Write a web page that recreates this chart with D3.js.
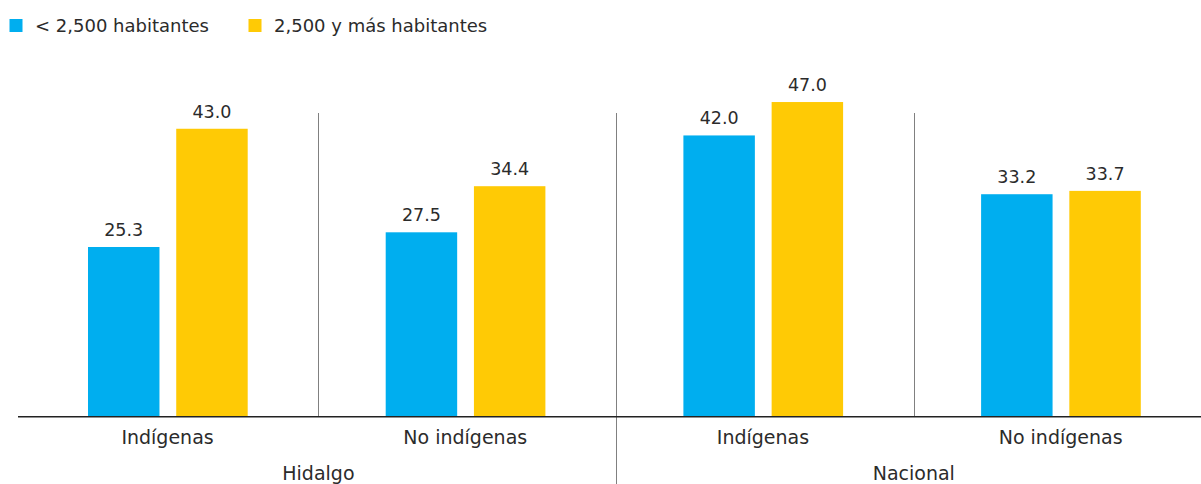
<!DOCTYPE html>
<html><head><meta charset="utf-8">
<script src="https://cdn.jsdelivr.net/npm/d3@7"></script>
<style>body{margin:0;background:#fff}svg{display:block}text{font-family:"DejaVu Sans",sans-serif;fill:#2b2b2b}</style>
</head><body>
<svg id="c" width="1201" height="484"></svg>
<script>
const categories = ["Indígenas","No indígenas","Indígenas","No indígenas"];
const groups = ["Hidalgo","Nacional"];
const seriesNames = ["< 2,500 habitantes","2,500 y más habitantes"];
const small = [25.3, 27.5, 42.0, 33.2];
const large = [43.0, 34.4, 47.0, 33.7];
const colors = ["#00AEEF","#FFCA05"];

const svg = d3.select("#c");
const W = 1201, H = 484, base = 416;
const x = d3.scaleBand().domain(d3.range(categories.length)).range([18.7, 1209.5]).padding(0);
const y = d3.scaleLinear().domain([0, 50]).range([base, 82]);
const inner = d3.scaleBand().domain([0,1]).range([69.3, 229]).paddingInner(0.19);

const series = [small, large];
const g = svg.append("g");
categories.forEach((c, i) => {
  series.forEach((s, k) => {
    const bx = x(i) + inner(k);
    g.append("rect").attr("x", bx).attr("y", y(s[i])).attr("width", inner.bandwidth())
      .attr("height", y(0) - y(s[i])).attr("fill", colors[k]);
    g.append("text").attr("x", bx + inner.bandwidth()/2).attr("y", y(s[i]) - 11)
      .attr("text-anchor","middle").style("font-size","17.5px").text(s[i].toFixed(1));
  });
  svg.append("text").attr("x", x(i) + x.bandwidth()/2).attr("y", 444)
    .attr("text-anchor","middle").style("font-size","19px").text(c);
});

// separators
const off = 2;
[1,2,3].forEach(i => {
  const sx = Math.round(x(i) + off) + 0.5;
  svg.append("line").attr("x1", sx).attr("x2", sx).attr("y1", 113)
    .attr("y2", i === 2 ? H : base).attr("stroke", "#808080").attr("stroke-width", 1);
});
// baseline
svg.append("line").attr("x1", 18).attr("x2", W).attr("y1", base + 0.75).attr("y2", base + 0.75)
  .attr("stroke", "#222").attr("stroke-width", 1.5);

// group labels
groups.forEach((gr, j) => {
  const gx = x(2*j + 1) + off;
  svg.append("text").attr("x", gx).attr("y", 480).attr("text-anchor","middle")
    .style("font-size","19px").text(gr);
});

// legend
const legX = [9.5, 248.5];
seriesNames.forEach((n, k) => {
  svg.append("rect").attr("x", legX[k]).attr("y", 19).attr("width", 13).attr("height", 13).attr("fill", colors[k]);
  svg.append("text").attr("x", legX[k] + 25.5).attr("y", 32).style("font-size","18px").text(n);
});
</script>
</body></html>
